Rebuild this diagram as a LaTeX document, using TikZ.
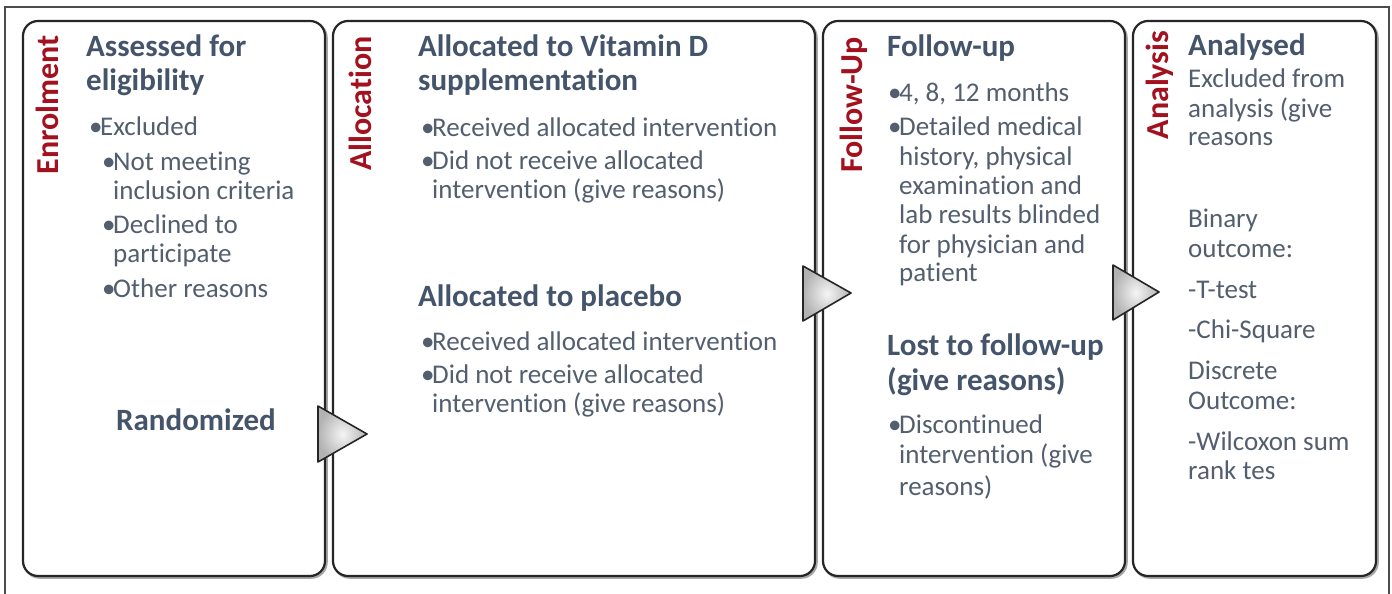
\documentclass[tikz,border=0pt]{standalone}
\usepackage{fontspec}
\setmainfont{Carlito}[Ligatures=NoCommon]
\definecolor{headcol}{HTML}{44546A}
\definecolor{bodycol}{HTML}{535E6E}
\definecolor{redcol}{HTML}{A3101E}
\tikzset{
  hd/.style={font=\fontsize{31}{36}\selectfont\bfseries, text=headcol, anchor=base west, inner sep=0pt},
  bd/.style={font=\fontsize{27}{32}\selectfont, text=bodycol, anchor=base west, inner sep=0pt},
  side/.style={font=\fontsize{32}{36}\selectfont\bfseries, text=redcol, rotate=90, anchor=base, inner sep=0pt},
  stagebox/.style={draw=black!85, line width=2.2pt, rounded corners=15pt, fill=white, inner sep=0pt},
  stageshadow/.style={draw=black!35, line width=2.5pt, rounded corners=15pt, inner sep=0pt},
  tri/.style={inner color=gray!8, outer color=gray!60, draw=black!85, line width=1.6pt, line join=round},
  frame/.style={draw=black!70, line width=1.2pt}
}
\newcommand{\bul}{\makebox[11pt][l]{•}}
\begin{document}
\begin{tikzpicture}[x=1pt,y=-1pt]
\useasboundingbox (0,0) rectangle (1392,594);
\fill[white] (0,0) rectangle (1392,594);
% outer frame
\coordinate (f1) at (5,594);
\coordinate (f2) at (5,7);
\coordinate (f3) at (1389,7);
\coordinate (f4) at (1389,594);
\draw[frame] (f1) -- (f2) -- (f3) -- (f4);
% shadows
\node[stageshadow, minimum width=302pt, minimum height=555pt] (s1) at (175.5,300) {};
\node[stageshadow, minimum width=482pt, minimum height=555pt] (s2) at (575.5,300) {};
\node[stageshadow, minimum width=302pt, minimum height=555pt] (s3) at (975.5,300) {};
\node[stageshadow, minimum width=243pt, minimum height=555pt] (s4) at (1256,300) {};
% boxes
\node[stagebox, minimum width=302pt, minimum height=555pt] (b1) at (174,298.5) {};
\node[stagebox, minimum width=482pt, minimum height=555pt] (b2) at (574,298.5) {};
\node[stagebox, minimum width=302pt, minimum height=555pt] (b3) at (974,298.5) {};
\node[stagebox, minimum width=243pt, minimum height=555pt] (b4) at (1254.5,298.5) {};
% side labels
\node[side] (l1) at (58,105) {Enrolment};
\node[side] (l2) at (371,103.5) {Allocation};
\node[side] (l3) at (862,105) {Follow-Up};
\node[side] (l4) at (1168,85) {Analysis};
% box 1
\node[hd] (a1) at (86,57) {Assessed for};
\node[hd] (a2) at (86,90) {eligibility};
\node[bd] (a3) at (89,135) {\bul Excluded};
\node[bd] (a4) at (102,170) {\bul Not meeting};
\node[bd] (a5) at (113,199) {inclusion criteria};
\node[bd] (a6) at (102,233) {\bul Declined to};
\node[bd] (a7) at (113,262) {participate};
\node[bd] (a8) at (102,297) {\bul Other reasons};
\node[hd] (a9) at (116,430) {Randomized};
% box 2
\node[hd] (c1) at (418,57) {Allocated to Vitamin D};
\node[hd] (c2) at (418,90) {supplementation};
\node[bd] (c3) at (421,136) {\bul Received allocated intervention};
\node[bd] (c4) at (421,169) {\bul Did not receive allocated};
\node[bd] (c5) at (432,198) {intervention (give reasons)};
\node[hd] (c6) at (418,306) {Allocated to placebo};
\node[bd] (c7) at (421,350) {\bul Received allocated intervention};
\node[bd] (c8) at (421,383) {\bul Did not receive allocated};
\node[bd] (c9) at (432,412) {intervention (give reasons)};
% box 3
\node[hd] (d1) at (887,57) {Follow-up};
\node[bd] (d2) at (888,101) {\bul 4, 8, 12 months};
\node[bd] (d3) at (888,135) {\bul Detailed medical};
\node[bd] (d4) at (899,165) {history, physical};
\node[bd] (d5) at (899,194) {examination and};
\node[bd] (d6) at (899,223) {lab results blinded};
\node[bd] (d7) at (899,253) {for physician and};
\node[bd] (d8) at (899,281) {patient};
\node[hd] (d9) at (887,355) {Lost to follow-up};
\node[hd] (d10) at (887,390) {(give reasons)};
\node[bd] (d11) at (888,433) {\bul Discontinued};
\node[bd] (d12) at (899,463) {intervention (give};
\node[bd] (d13) at (899,495) {reasons)};
% box 4
\node[hd] (g1) at (1188,56) {Analysed};
\node[bd] (g2) at (1188,88) {Excluded from};
\node[bd] (g3) at (1188,117) {analysis (give};
\node[bd] (g4) at (1188,145) {reasons};
\node[bd] (g5) at (1188,227) {Binary};
\node[bd] (g6) at (1188,257) {outcome:};
\node[bd] (g7) at (1188,298) {-T-test};
\node[bd] (g8) at (1188,338) {-Chi-Square};
\node[bd] (g9) at (1188,379) {Discrete};
\node[bd] (g10) at (1188,409) {Outcome:};
\node[bd] (g11) at (1188,450) {-Wilcoxon sum};
\node[bd] (g12) at (1188,479) {rank tes};
% triangles
\coordinate (t1a) at (318,406); \coordinate (t1b) at (318,462); \coordinate (t1c) at (367,434);
\coordinate (t2a) at (803,266); \coordinate (t2b) at (803,321); \coordinate (t2c) at (851,293);
\coordinate (t3a) at (1113,265); \coordinate (t3b) at (1113,320); \coordinate (t3c) at (1159,292);
\shadedraw[tri] (t1a) -- (t1c) -- (t1b) -- cycle;
\shadedraw[tri] (t2a) -- (t2c) -- (t2b) -- cycle;
\shadedraw[tri] (t3a) -- (t3c) -- (t3b) -- cycle;
\end{tikzpicture}
\end{document}
